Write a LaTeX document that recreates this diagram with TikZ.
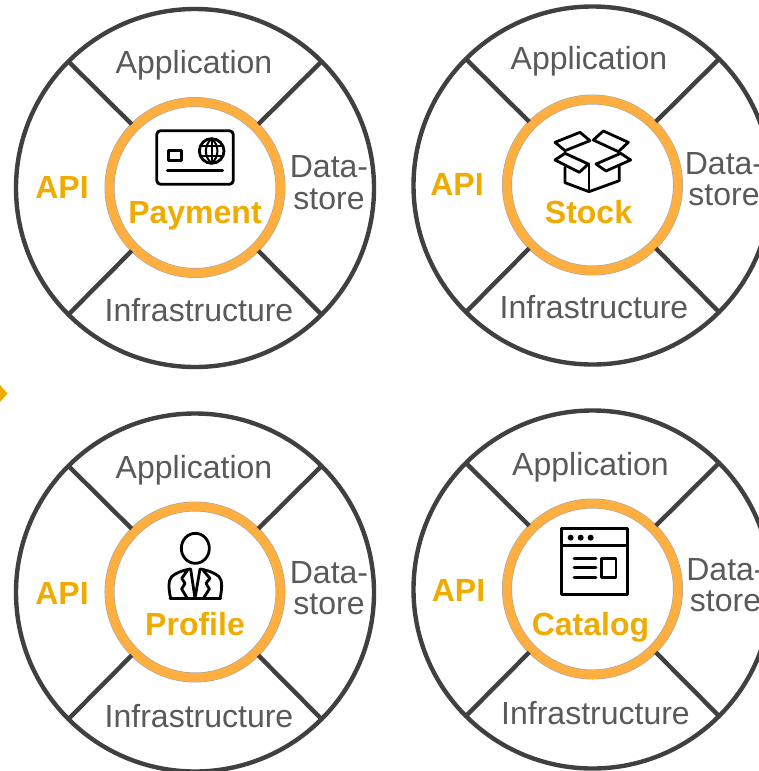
\documentclass[tikz,border=0pt]{standalone}
\usepackage{fontspec}
\setmainfont{Liberation Sans}
\usepackage{xcolor}
\definecolor{spokegray}{HTML}{404040}
\definecolor{labelgray}{HTML}{595959}
\definecolor{ringorange}{HTML}{FFAF40}
\definecolor{titlegold}{HTML}{F0AB00}
\begin{document}
\begin{tikzpicture}[x=1pt, y=-1pt,
        wheel/.style={circle, draw=spokegray, line width=4.4pt, outer sep=0pt, minimum size=358pt},
        ring/.style={circle, draw=gray!70, line width=0.6pt, double=ringorange, double distance=8.8pt, fill=white, outer sep=0pt, minimum size=171pt},
        spoke/.style={draw=spokegray, line width=4.4pt, shorten <=4pt},
        layer/.style={text=labelgray, font=\fontsize{32}{31.5}\selectfont, align=center, inner sep=0pt},
        title/.style={text=titlegold, font=\fontsize{32}{31.5}\selectfont\bfseries, inner sep=0pt},
        icon/.style={draw=black, line width=2.8pt, line join=round, line cap=round}]

        \clip (0,0) rectangle (759,771);

        \foreach \name/\cx/\cy/\tx/\ty in {payment/195/188/0/0, stock/592.5/185.5/-2.5/-1, profile/195/592.5/0/1, catalog/592.5/589.5/-1/1} {
            \begin{scope}[shift={(\cx,\cy)}]
                \node[wheel] (\name-wheel) at (0,0) {};
                \node[ring] (\name-ring) at (0,-0.5) {};
                \foreach \angle in {45,135,225,315} {
                    \path[spoke] (\name-ring.\angle) -- (\name-wheel.\angle);
                }
                \node[layer] (\name-app) at (-1+\tx,-123+\ty) {Application};
                \node[title] (\name-api) at (-133+\tx,-0.5+\ty) {API};
                \node[layer] (\name-data) at (134+\tx,-5.5+\ty) {Data-\\store};
                \node[layer] (\name-infra) at (4+\tx,122.5+\ty) {Infrastructure};
            \end{scope}
        }

        \node[title] (payment) at (195,216) {Payment};
        \node[title] (stock) at (588.5,212) {Stock};
        \node[title] (profile) at (195,624) {Profile};
        \node[title] (catalog) at (590.5,627) {Catalog};

        \fill[titlegold] (0,385) -- (7.5,393.5) -- (0,402) -- cycle;

        \begin{scope}[shift={(100,90)}, scale=1/3, icon]
            \draw[rounded corners=4pt] (170,122) rectangle (400,283);
            \draw (205,181) rectangle (244,212);
            \draw (202,242) -- (368,242);
            \draw (335,183) circle[radius=37];
            \draw[line width=2pt] (335,146) .. controls (312,165) and (312,201) .. (335,220);
            \draw[line width=2pt] (335,146) .. controls (358,165) and (358,201) .. (335,220);
            \draw[line width=2pt] (335,146) -- (335,220);
            \draw[line width=2pt] (302,168) -- (368,168);
            \draw[line width=2pt] (302,198) -- (368,198);
        \end{scope}

        \begin{scope}[shift={(500,90)}, scale=1/3, icon]
            \draw (165,157) -- (240,127) -- (270,152) -- (195,182) -- cycle;
            \draw (280,150) -- (310,123) -- (385,157) -- (355,185) -- cycle;
            \draw (165,210) -- (195,190) -- (265,222) -- (238,247) -- cycle;
            \draw (288,222) -- (362,190) -- (392,210) -- (318,243) -- cycle;
            \draw (195,232) -- (195,278) -- (267,305) -- (358,272) -- (358,230);
            \draw (267,222) -- (267,305);
        \end{scope}

        \begin{scope}[shift={(100,500)}, scale=1/3, icon]
            \draw (286,145) ellipse[x radius=42, y radius=45];
            \draw (210,295) -- (362,295);
            \draw (212,295) .. controls (205,265) and (205,240) .. (215,230) .. controls (225,220) and (245,212) .. (270,207);
            \draw (360,295) .. controls (367,265) and (367,240) .. (357,230) .. controls (347,220) and (327,212) .. (302,207);
            \draw (262,212) -- (245,235) -- (255,250) -- (245,267) -- (262,295);
            \draw (310,212) -- (330,235) -- (318,250) -- (328,267) -- (310,295);
            \draw (272,207) -- (285,295) -- (300,207);
        \end{scope}

        \begin{scope}[shift={(500,495)}, scale=1/3, icon]
            \draw (185,100) rectangle (383,298);
            \draw (185,152) -- (383,152);
            \foreach \dotx in {212,242,272} {
                \fill (\dotx,128) circle[radius=9];
            }
            \draw (222,190) -- (288,190);
            \draw (222,218) -- (288,218);
            \draw (222,247) -- (288,247);
            \draw (305,190) rectangle (348,247);
        \end{scope}

    \end{tikzpicture}
\end{document}
